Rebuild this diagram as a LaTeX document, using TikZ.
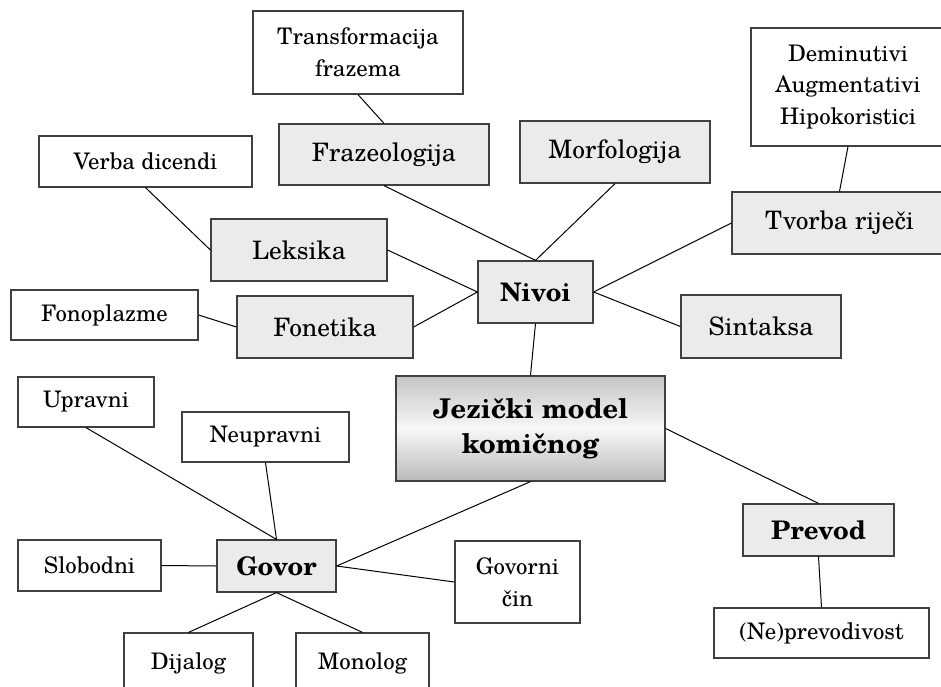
\documentclass[tikz,border=0pt]{standalone}
\usepackage{fontspec}
\setmainfont{TeX Gyre Schola}
\definecolor{boxgray}{HTML}{EBEBEB}
\definecolor{edgegray}{HTML}{404040}
\tikzset{
  leaf/.style={draw=edgegray, line width=0.6pt, fill=white, inner sep=0pt,
    align=center, font=\fontsize{11.4}{15.8}\selectfont},
  topic/.style={leaf, fill=boxgray, font=\fontsize{12.7}{16}\selectfont},
  hub/.style={topic, font=\bfseries\fontsize{12.8}{16}\selectfont},
  link/.style={draw=black, line width=0.5pt},
}
\begin{document}
\begin{tikzpicture}[x=0.5pt,y=-0.5pt]
  \useasboundingbox (0,0) rectangle (941,686);
  \clip (0,0) rectangle (941,686);

  % central box
  \node[leaf, top color=black!23, bottom color=black!27, middle color=white!97!black,
        font=\bfseries\fontsize{13.6}{17.5}\selectfont,
        minimum width=134.5pt, minimum height=52.5pt] (jez) at (530.5,428.5)
        {Jezički model\\komičnog};

  % language levels
  \node[hub,   minimum width=57.5pt,  minimum height=31pt]   (nivoi)  at (535.5,292)  {Nivoi};
  \node[topic, minimum width=105pt,   minimum height=30.5pt] (fraz)   at (384,154.5)  {Frazeologija};
  \node[leaf,  minimum width=105pt,   minimum height=41.5pt] (trans)  at (358,52.5)   {Transformacija\\frazema};
  \node[topic, minimum width=95pt,    minimum height=31pt]   (morf)   at (615,152)    {Morfologija};
  \node[topic, minimum width=107.5pt, minimum height=31pt]   (tvorba) at (839.5,223)  {Tvorba riječi};
  \node[leaf,  minimum width=97pt,    minimum height=59pt]   (demin)  at (848,87)     {Deminutivi\\Augmentativi\\Hipokoristici};
  \node[topic, minimum width=80pt,    minimum height=31.5pt] (sint)   at (761,326.5)  {Sintaksa};
  \node[topic, minimum width=88pt,    minimum height=31pt]   (leks)   at (299,250)    {Leksika};
  \node[leaf,  minimum width=106.5pt, minimum height=25.5pt] (verba)  at (145.5,161.5) {Verba dicendi};
  \node[topic, minimum width=88pt,    minimum height=31pt]   (fonet)  at (325,327)    {Fonetika};
  \node[leaf,  minimum width=93.5pt,  minimum height=25pt]   (fonopl) at (104.5,315)  {Fonoplazme};

  % speech
  \node[hub,   minimum width=59.5pt,  minimum height=26pt]   (govor)  at (276.5,566)  {Govor};
  \node[leaf,  minimum width=68pt,    minimum height=25pt]   (uprav)  at (86,402)     {Upravni};
  \node[leaf,  minimum width=83.5pt,  minimum height=25pt]   (neupr)  at (265.5,437)  {Neupravni};
  \node[leaf,  minimum width=71.5pt,  minimum height=25.5pt] (slob)   at (89.5,565.5) {Slobodni};
  \node[leaf,  minimum width=62.5pt,  minimum height=41pt]   (gcin)   at (517.5,582)  {Govorni\\čin};
  \node[leaf,  minimum width=64.5pt,  minimum height=30pt]   (dijal)  at (188.5,663)  {Dijalog};
  \node[leaf,  minimum width=66.5pt,  minimum height=30pt]   (monol)  at (362.5,663)  {Monolog};

  % translation
  \node[hub,   minimum width=75.5pt,  minimum height=26pt]   (prevod) at (818.5,530)  {Prevod};
  \node[leaf,  minimum width=107.5pt, minimum height=25pt]   (neprev) at (821.5,633)  {(Ne)prevodivost};

  % connectors
  \draw[link] (trans.south) -- (fraz.north);
  \draw[link] (fraz.south) -- (nivoi.north);
  \draw[link] (morf.south) -- (nivoi.north);
  \draw[link] (verba.south) -- (leks.west);
  \draw[link] (leks.east) -- (nivoi.west);
  \draw[link] (fonet.east) -- (nivoi.west);
  \draw[link] (fonopl.east) -- (fonet.west);
  \draw[link] (nivoi.east) -- (tvorba.west);
  \draw[link] (nivoi.east) -- (sint.west);
  \draw[link] (demin.south) -- (tvorba.north);
  \draw[link] (nivoi.south) -- (jez.north);
  \draw[link] (jez.east) -- (prevod.north);
  \draw[link] (prevod.south) -- (neprev.north);
  \draw[link] (jez.south) -- (govor.east);
  \draw[link] (uprav.south) -- (govor.north);
  \draw[link] (neupr.south) -- (govor.north);
  \draw[link] (slob.east) -- (govor.west);
  \draw[link] (govor.east) -- (gcin.west);
  \draw[link] (govor.south) -- (dijal.north);
  \draw[link] (govor.south) -- (monol.north);
\end{tikzpicture}
\end{document}
